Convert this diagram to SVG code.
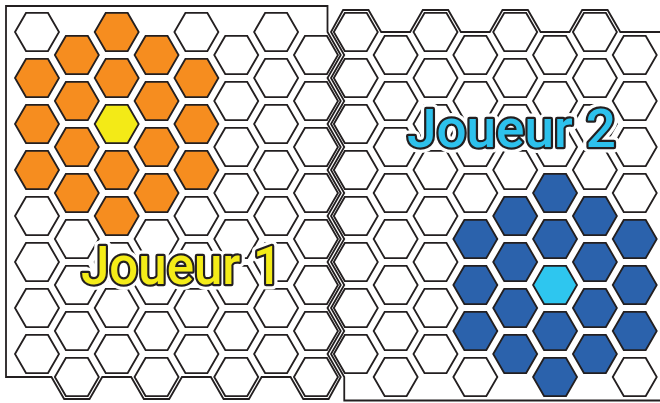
<svg xmlns="http://www.w3.org/2000/svg" xmlns:xlink="http://www.w3.org/1999/xlink" width="660" height="403" viewBox="0 0 660 403">
<style>
.board{fill:#fff;stroke:#231f20;stroke-width:1.8;stroke-linejoin:miter}
.hx{stroke:#231f20;stroke-width:1.8;fill:#fff}
.o{fill:#f68d1f}
.y{fill:#f3ea17}
.b{fill:#2b62ac}
.lb{fill:#2ec6ef}
.txt{font-family:Roboto,"DejaVu Sans",sans-serif;font-weight:500;font-size:53px}
.halo{fill:#fff;stroke:#fff;stroke-width:11;stroke-linejoin:round}
.t{stroke:#231f20;stroke-width:4.5;stroke-linejoin:round;paint-order:stroke}
</style>
<defs>
<path id="h" d="M-22,0 L-11,-19.05 L11,-19.05 L22,0 L11,19.05 L-11,19.05 Z"/>
</defs>
<rect width="660" height="403" fill="#fff"/>
<g id="board-1">
<path class="board" d="M6,6 H327.5 V32 L340.75,55 L327.5,78 L340.75,101 L327.5,124 L340.75,147 L327.5,170 L340.75,193 L327.5,216 L340.75,239 L327.5,262 L340.75,285 L327.5,308 L340.75,331 L327.5,354 L340.75,377 L328.65,399 L303.25,399 L290.55,377 H261.65 L248.95,399 L223.55,399 L210.85,377 H181.95 L169.25,399 L143.85,399 L131.15,377 H102.25 L89.55,399 L64.15,399 L51.45,377 H6 Z"/>
</g>
<g id="board-2">
<path class="board" d="M331,32 L343.1,10 L368.5,10 L381.2,32 H410.1 L422.8,10 L448.2,10 L460.9,32 H489.8 L502.5,10 L527.9,10 L540.6,32 H569.5 L582.2,10 L607.6,10 L620.3,32 H664 V400.5 H344.25 V377 L331,354 L344.25,331 L331,308 L344.25,285 L331,262 L344.25,239 L331,216 L344.25,193 L331,170 L344.25,147 L331,124 L344.25,101 L331,78 L344.25,55 Z"/>
</g>
<g id="hexes">
<!-- col 0 -->
<use href="#h" class="hx" x="37" y="32"/><use href="#h" class="hx o" x="37" y="78"/><use href="#h" class="hx o" x="37" y="124"/><use href="#h" class="hx o" x="37" y="170"/><use href="#h" class="hx" x="37" y="216"/><use href="#h" class="hx" x="37" y="262"/><use href="#h" class="hx" x="37" y="308"/><use href="#h" class="hx" x="37" y="354"/>
<!-- col 1 -->
<use href="#h" class="hx o" x="76.85" y="55"/><use href="#h" class="hx o" x="76.85" y="101"/><use href="#h" class="hx o" x="76.85" y="147"/><use href="#h" class="hx o" x="76.85" y="193"/><use href="#h" class="hx" x="76.85" y="239"/><use href="#h" class="hx" x="76.85" y="285"/><use href="#h" class="hx" x="76.85" y="331"/><use href="#h" class="hx" x="76.85" y="377"/>
<!-- col 2 -->
<use href="#h" class="hx o" x="116.7" y="32"/><use href="#h" class="hx o" x="116.7" y="78"/><use href="#h" class="hx y" x="116.7" y="124"/><use href="#h" class="hx o" x="116.7" y="170"/><use href="#h" class="hx o" x="116.7" y="216"/><use href="#h" class="hx" x="116.7" y="262"/><use href="#h" class="hx" x="116.7" y="308"/><use href="#h" class="hx" x="116.7" y="354"/>
<!-- col 3 -->
<use href="#h" class="hx o" x="156.55" y="55"/><use href="#h" class="hx o" x="156.55" y="101"/><use href="#h" class="hx o" x="156.55" y="147"/><use href="#h" class="hx o" x="156.55" y="193"/><use href="#h" class="hx" x="156.55" y="239"/><use href="#h" class="hx" x="156.55" y="285"/><use href="#h" class="hx" x="156.55" y="331"/><use href="#h" class="hx" x="156.55" y="377"/>
<!-- col 4 -->
<use href="#h" class="hx" x="196.4" y="32"/><use href="#h" class="hx o" x="196.4" y="78"/><use href="#h" class="hx o" x="196.4" y="124"/><use href="#h" class="hx o" x="196.4" y="170"/><use href="#h" class="hx" x="196.4" y="216"/><use href="#h" class="hx" x="196.4" y="262"/><use href="#h" class="hx" x="196.4" y="308"/><use href="#h" class="hx" x="196.4" y="354"/>
<!-- col 5 -->
<use href="#h" class="hx" x="236.25" y="55"/><use href="#h" class="hx" x="236.25" y="101"/><use href="#h" class="hx" x="236.25" y="147"/><use href="#h" class="hx" x="236.25" y="193"/><use href="#h" class="hx" x="236.25" y="239"/><use href="#h" class="hx" x="236.25" y="285"/><use href="#h" class="hx" x="236.25" y="331"/><use href="#h" class="hx" x="236.25" y="377"/>
<!-- col 6 -->
<use href="#h" class="hx" x="276.1" y="32"/><use href="#h" class="hx" x="276.1" y="78"/><use href="#h" class="hx" x="276.1" y="124"/><use href="#h" class="hx" x="276.1" y="170"/><use href="#h" class="hx" x="276.1" y="216"/><use href="#h" class="hx" x="276.1" y="262"/><use href="#h" class="hx" x="276.1" y="308"/><use href="#h" class="hx" x="276.1" y="354"/>
<!-- col 7 -->
<use href="#h" class="hx" x="315.95" y="55"/><use href="#h" class="hx" x="315.95" y="101"/><use href="#h" class="hx" x="315.95" y="147"/><use href="#h" class="hx" x="315.95" y="193"/><use href="#h" class="hx" x="315.95" y="239"/><use href="#h" class="hx" x="315.95" y="285"/><use href="#h" class="hx" x="315.95" y="331"/><use href="#h" class="hx" x="315.95" y="377"/>
<!-- col 8 -->
<use href="#h" class="hx" x="355.8" y="32"/><use href="#h" class="hx" x="355.8" y="78"/><use href="#h" class="hx" x="355.8" y="124"/><use href="#h" class="hx" x="355.8" y="170"/><use href="#h" class="hx" x="355.8" y="216"/><use href="#h" class="hx" x="355.8" y="262"/><use href="#h" class="hx" x="355.8" y="308"/><use href="#h" class="hx" x="355.8" y="354"/>
<!-- col 9 -->
<use href="#h" class="hx" x="395.65" y="55"/><use href="#h" class="hx" x="395.65" y="101"/><use href="#h" class="hx" x="395.65" y="147"/><use href="#h" class="hx" x="395.65" y="193"/><use href="#h" class="hx" x="395.65" y="239"/><use href="#h" class="hx" x="395.65" y="285"/><use href="#h" class="hx" x="395.65" y="331"/><use href="#h" class="hx" x="395.65" y="377"/>
<!-- col 10 -->
<use href="#h" class="hx" x="435.5" y="32"/><use href="#h" class="hx" x="435.5" y="78"/><use href="#h" class="hx" x="435.5" y="124"/><use href="#h" class="hx" x="435.5" y="170"/><use href="#h" class="hx" x="435.5" y="216"/><use href="#h" class="hx" x="435.5" y="262"/><use href="#h" class="hx" x="435.5" y="308"/><use href="#h" class="hx" x="435.5" y="354"/>
<!-- col 11 -->
<use href="#h" class="hx" x="475.35" y="55"/><use href="#h" class="hx" x="475.35" y="101"/><use href="#h" class="hx" x="475.35" y="147"/><use href="#h" class="hx" x="475.35" y="193"/><use href="#h" class="hx b" x="475.35" y="239"/><use href="#h" class="hx b" x="475.35" y="285"/><use href="#h" class="hx b" x="475.35" y="331"/><use href="#h" class="hx" x="475.35" y="377"/>
<!-- col 12 -->
<use href="#h" class="hx" x="515.2" y="32"/><use href="#h" class="hx" x="515.2" y="78"/><use href="#h" class="hx" x="515.2" y="124"/><use href="#h" class="hx" x="515.2" y="170"/><use href="#h" class="hx b" x="515.2" y="216"/><use href="#h" class="hx b" x="515.2" y="262"/><use href="#h" class="hx b" x="515.2" y="308"/><use href="#h" class="hx b" x="515.2" y="354"/>
<!-- col 13 -->
<use href="#h" class="hx" x="555.05" y="55"/><use href="#h" class="hx" x="555.05" y="101"/><use href="#h" class="hx" x="555.05" y="147"/><use href="#h" class="hx b" x="555.05" y="193"/><use href="#h" class="hx b" x="555.05" y="239"/><use href="#h" class="hx lb" x="555.05" y="285"/><use href="#h" class="hx b" x="555.05" y="331"/><use href="#h" class="hx b" x="555.05" y="377"/>
<!-- col 14 -->
<use href="#h" class="hx" x="594.9" y="32"/><use href="#h" class="hx" x="594.9" y="78"/><use href="#h" class="hx" x="594.9" y="124"/><use href="#h" class="hx" x="594.9" y="170"/><use href="#h" class="hx b" x="594.9" y="216"/><use href="#h" class="hx b" x="594.9" y="262"/><use href="#h" class="hx b" x="594.9" y="308"/><use href="#h" class="hx b" x="594.9" y="354"/>
<!-- col 15 -->
<use href="#h" class="hx" x="634.75" y="55"/><use href="#h" class="hx" x="634.75" y="101"/><use href="#h" class="hx" x="634.75" y="147"/><use href="#h" class="hx" x="634.75" y="193"/><use href="#h" class="hx b" x="634.75" y="239"/><use href="#h" class="hx b" x="634.75" y="285"/><use href="#h" class="hx b" x="634.75" y="331"/><use href="#h" class="hx" x="634.75" y="377"/>
</g>
<g id="label-1">
<text class="txt halo" x="81" y="284" textLength="201" lengthAdjust="spacingAndGlyphs">Joueur 1</text>
<text class="txt t" x="81" y="284" textLength="201" lengthAdjust="spacingAndGlyphs" fill="#f4ec18">Joueur 1</text>
</g>
<g id="label-2">
<text class="txt halo" x="407" y="147" textLength="209" lengthAdjust="spacingAndGlyphs">Joueur 2</text>
<text class="txt t" x="407" y="147" textLength="209" lengthAdjust="spacingAndGlyphs" fill="#2dc1ec">Joueur 2</text>
</g>
</svg>
